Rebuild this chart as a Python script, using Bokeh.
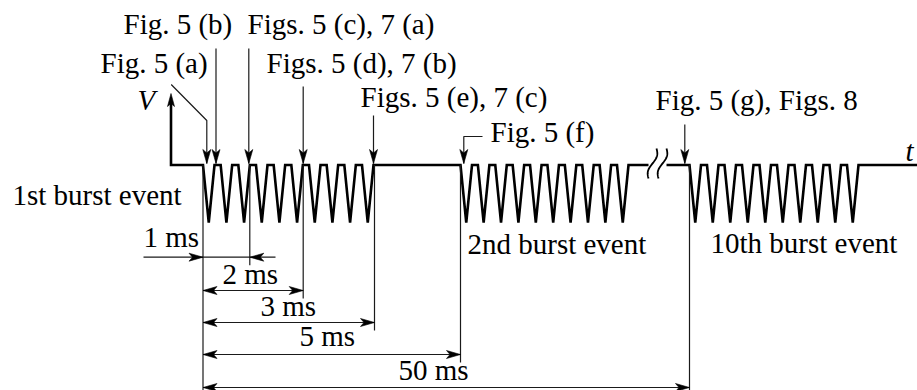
import numpy as np
from bokeh.plotting import figure
from bokeh.models import Range1d
from bokeh.core.properties import value
from bokeh.embed import file_html
from bokeh.resources import INLINE

# ---- content -------------------------------------------------------------
burst_labels = ["1st burst event", "2nd burst event", "10th burst event"]
pulses_per_burst = [10, 10, 10]
marker_labels = ["Fig. 5 (a)", "Fig. 5 (b)", "Figs. 5 (c), 7 (a)",
                 "Figs. 5 (d), 7 (b)", "Figs. 5 (e), 7 (c)", "Fig. 5 (f)",
                 "Fig. 5 (g), Figs. 8"]
interval_labels = ["1 ms", "2 ms", "3 ms", "5 ms", "50 ms"]
axis_labels = ["V", "t"]

# ---- layout (drawing units, y grows downward) -----------------------------
W, H = 917, 390
TOP, LOW = 164.5, 222.0          # idle level and spike depth
V_AXIS_X = 170.5
burst_x0 = [202.5, 460.0, 689.0]
burst_x1 = [373.0, 628.0, 858.0]
V_WIDTH = 11.5
BREAK_L, BREAK_R = 648.0, 666.0
break_cx = [652.0, 662.0]

# marker arrows: x of arrow, y where its leader starts
marker_x = [206.3, 215.5, 248.3, 302.7, 373.0, 463.3, 684.3]
marker_top = [120.0, 48.0, 48.0, 86.0, 115.0, 136.0, 124.0]
marker_text_xy = [(100, 74), (123, 35), (247, 35), (266, 74), (360, 108),
                  (490, 143), (655, 111)]
HEAD_Y = 163.0

# interval dimensions: right end x, dimension line y, label position
dim_x1 = [249.3, 302.7, 374.0, 460.0, 689.0]
dim_y = [256.7, 290.0, 322.0, 354.0, 387.0]
dim_text_xy = [(143, 248), (222, 285), (260, 317), (299, 347), (398, 381)]
DIM_X0 = 202.5

burst_text_xy = [(12, 206), (467, 255), (710, 254)]
axis_text_xy = [(137, 111), (905, 162)]

# the text glyph sits its baseline a little below the anchor; compensate
BASELINE_SHIFT = -11.5

FONT = "Liberation Serif"
FSIZE = "29px"
INK = "#000000"
THIN = "#1a1a1a"

p = figure(width=W, height=H, x_range=Range1d(0, W), y_range=Range1d(H, 0),
           output_backend="svg", toolbar_location=None, min_border=0,
           background_fill_color="white", border_fill_color="white")
p.axis.visible = False
p.grid.visible = False
p.outline_line_color = None


def head(tx, ty, dx, dy, L=14.0, hw=4.0, notch=3.5):
    """Notched arrowhead polygon with its tip at (tx, ty) pointing along (dx, dy)."""
    n = np.hypot(dx, dy)
    ux, uy = dx / n, dy / n
    px, py = -uy, ux
    bx, by = tx - ux * L, ty - uy * L
    nx, ny = tx - ux * (L - notch), ty - uy * (L - notch)
    return ([tx, bx + px * hw, nx, bx - px * hw],
            [ty, by + py * hw, ny, by - py * hw])


# ---- waveform --------------------------------------------------------------
def burst_path(x0, x1, n):
    period = (x1 - x0 - V_WIDTH) / (n - 1)
    xs, ys = [], []
    for k in range(n):
        a = x0 + k * period
        xs += [a, a + V_WIDTH / 2, a + V_WIDTH]
        ys += [TOP, LOW, TOP]
    return xs, ys

wx1, wy1 = [V_AXIS_X, V_AXIS_X], [101.0, TOP]
for i in range(2):
    bx, by = burst_path(burst_x0[i], burst_x1[i], pulses_per_burst[i])
    wx1 += bx
    wy1 += by
wx1.append(BREAK_L)
wy1.append(TOP)

wx2, wy2 = [BREAK_R], [TOP]
bx, by = burst_path(burst_x0[2], burst_x1[2], pulses_per_burst[2])
wx2 += bx + [W + 2]
wy2 += by + [TOP]

p.multi_line([wx1, wx2], [wy1, wy2], line_color=INK, line_width=2.6,
             line_join="miter")

# axis break squiggles
sx, sy = [], []
t = np.linspace(-1, 1, 40)
for cx in break_cx:
    sx.append(list(cx - 4 * t - 2.5 * np.sin(np.pi * t)))
    sy.append(list(TOP - 1.5 + 15 * t))
p.multi_line(sx, sy, line_color=INK, line_width=1.8)

heads_x, heads_y = [], []
hx, hy = head(V_AXIS_X, 93.0, 0, -1, L=13, hw=3.5, notch=3)
heads_x.append(hx)
heads_y.append(hy)

# ---- marker leaders --------------------------------------------------------
seg_x, seg_y = [], []
for i, (mx, mt) in enumerate(zip(marker_x, marker_top)):
    if i == 0:
        seg_x.append([170.7, mx, mx])
        seg_y.append([84.0, mt, HEAD_Y])
    elif i == 5:
        seg_x.append([482.0, mx, mx])
        seg_y.append([mt, mt, HEAD_Y])
    else:
        seg_x.append([mx, mx])
        seg_y.append([mt, HEAD_Y])
    hx, hy = head(mx, HEAD_Y, 0, 1)
    heads_x.append(hx)
    heads_y.append(hy)

# extension lines below the trace
ext_bottom = [dim_y[i] + 8 for i in range(len(dim_x1))]
ext_bottom[-1] = H
seg_x.append([DIM_X0, DIM_X0])
seg_y.append([TOP, H])
for xe, yb in zip(dim_x1, ext_bottom):
    seg_x.append([xe, xe])
    seg_y.append([TOP, yb])

# ---- interval dimensions ---------------------------------------------------
for i, (xe, yd) in enumerate(zip(dim_x1, dim_y)):
    if i == 0:
        # inward pointing pair
        seg_x.append([143.0, 275.0])
        seg_y.append([yd, yd])
        for tx, d in ((DIM_X0, 1), (xe, -1)):
            hx, hy = head(tx, yd, d, 0)
            heads_x.append(hx)
            heads_y.append(hy)
    else:
        seg_x.append([DIM_X0, xe])
        seg_y.append([yd, yd])
        for tx, d in ((DIM_X0, -1), (xe, 1)):
            hx, hy = head(tx, yd, d, 0)
            heads_x.append(hx)
            heads_y.append(hy)

p.multi_line(seg_x, seg_y, line_color=THIN, line_width=1.2)
p.patches(heads_x, heads_y, fill_color=INK, line_color=INK, line_width=0.6)

# ---- texts -------------------------------------------------------------------
def put(xy, labels, style="normal"):
    p.text(x=[a for a, _ in xy], y=[b + BASELINE_SHIFT for _, b in xy],
           text=labels, text_font=value(FONT), text_font_size=FSIZE,
           text_color=INK, text_align="left", text_baseline="alphabetic",
           text_font_style=style)

put(marker_text_xy, marker_labels)
put(dim_text_xy, interval_labels)
put(burst_text_xy, burst_labels)
put(axis_text_xy, axis_labels, style="italic")

open("out.html", "w").write(file_html(p, INLINE))
